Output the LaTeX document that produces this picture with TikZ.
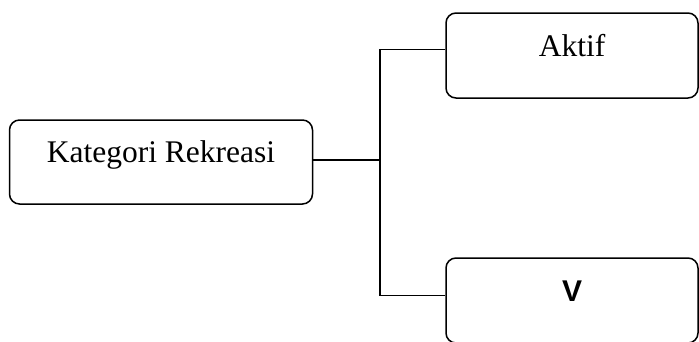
\documentclass[tikz,border=0pt]{standalone}
\usepackage{fontspec}
\setmainfont{Liberation Serif}
\newfontfamily\vfont{Liberation Sans}

\begin{document}
\begin{tikzpicture}[x=1pt,y=-1pt,
    kotak/.style={draw,line width=1.5pt,rounded corners=10pt,inner sep=0pt,
      text height=21pt,text depth=20pt,font=\fontsize{31.5}{38}\selectfont},
    garis/.style={line width=1.5pt}]
  \useasboundingbox (0,0) rectangle (699,341);
  \clip (0,0) rectangle (699,341);
  \node[kotak,minimum width=303pt,minimum height=84pt] (kategori) at (161,162) {Kategori Rekreasi};
  \node[kotak,minimum width=252pt,minimum height=85pt] (aktif) at (572,55.5) {Aktif};
  \node[kotak,minimum width=252pt,minimum height=85pt] (v) at (572,300.5) {\vfont\fontsize{30}{36}\selectfont\bfseries V};
  \coordinate (cabang) at (380,160);
  \draw[garis] ([yshift=2pt]kategori.east) -- (cabang);
  \draw[garis] ([yshift=6pt]aktif.west) -| (cabang) |- ([yshift=5pt]v.west);
\end{tikzpicture}
\end{document}
